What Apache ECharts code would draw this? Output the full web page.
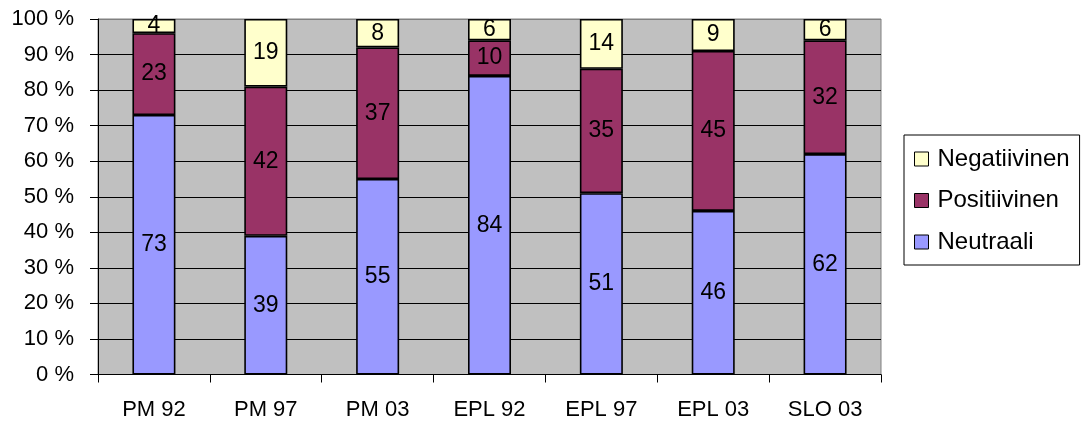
<!DOCTYPE html>
<html>
<head>
<meta charset="utf-8">
<script src="https://cdn.jsdelivr.net/npm/echarts@6/dist/echarts.min.js"></script>
<style>
  html, body { margin: 0; padding: 0; background: #fff; }
  #chart { width: 1082px; height: 425px; }
</style>
</head>
<body>
<div id="chart"></div>
<script>
// Categories (survey rounds) and the share of each tone, in percent
const categories = ['PM 92', 'PM 97', 'PM 03', 'EPL 92', 'EPL 97', 'EPL 03', 'SLO 03'];
const neutraali = [73, 39, 55, 84, 51, 46, 62];
const positiivinen = [23, 42, 37, 10, 35, 45, 32];
const negatiivinen = [4, 19, 8, 6, 14, 9, 6];
const yTicks = [0, 10, 20, 30, 40, 50, 60, 70, 80, 90, 100];

const FONT = '"Liberation Sans", Arial, sans-serif';

function barSeries(name, data, color) {
  return {
    name: name,
    type: 'bar',
    stack: 'total',
    data: data,
    barWidth: 43,
    itemStyle: { color: color, borderColor: '#000', borderWidth: 1.6 },
    label: {
      show: true,
      position: 'inside',
      color: '#000',
      fontFamily: FONT,
      fontSize: 23
    },
    emphasis: { disabled: true }
  };
}

// grid lines are black except the top one, which belongs to the plot frame
const splitColors = yTicks.map((v, i) => i === yTicks.length - 1 ? '#808080' : '#000');

const chart = echarts.init(document.getElementById('chart'), null, { renderer: 'canvas' });
chart.setOption({
  animation: false,
  backgroundColor: '#fff',
  textStyle: { fontFamily: FONT },
  grid: {
    left: 98, top: 19, width: 783, height: 355.5,
    show: true,
    backgroundColor: '#C0C0C0',
    borderColor: '#808080',
    borderWidth: 1
  },
  legend: {
    data: ['Negatiivinen', 'Positiivinen', 'Neutraali'],
    orient: 'vertical',
    left: 904,
    top: 135,
    padding: [12, 10, 11, 10],
    itemWidth: 14,
    itemHeight: 14,
    itemGap: 17.5,
    icon: 'rect',
    borderColor: '#000',
    borderWidth: 1,
    backgroundColor: '#fff',
    itemStyle: { borderColor: '#000', borderWidth: 1 },
    textStyle: {
      fontFamily: FONT,
      fontSize: 24,
      lineHeight: 22,
      color: '#000',
      padding: [0, 0, 0, 4]
    },
    selectedMode: false
  },
  xAxis: {
    type: 'category',
    data: categories,
    axisLine: { lineStyle: { color: '#000', width: 1 } },
    axisTick: { show: true, inside: false, length: 8, lineStyle: { color: '#000' } },
    axisLabel: { color: '#000', fontFamily: FONT, fontSize: 22, margin: 24 },
    splitLine: { show: false }
  },
  yAxis: {
    type: 'value',
    min: 0,
    max: 100,
    interval: 10,
    axisLine: { show: true, lineStyle: { color: '#000', width: 1 } },
    axisTick: { show: true, inside: false, length: 8, lineStyle: { color: '#000' } },
    axisLabel: {
      color: '#000', fontFamily: FONT, fontSize: 22, margin: 24,
      formatter: '{value} %'
    },
    splitLine: { show: true, lineStyle: { color: splitColors, width: 1 } }
  },
  series: [
    barSeries('Neutraali', neutraali, '#9999FF'),
    barSeries('Positiivinen', positiivinen, '#993366'),
    barSeries('Negatiivinen', negatiivinen, '#FFFFCC')
  ]
});
</script>
</body>
</html>
